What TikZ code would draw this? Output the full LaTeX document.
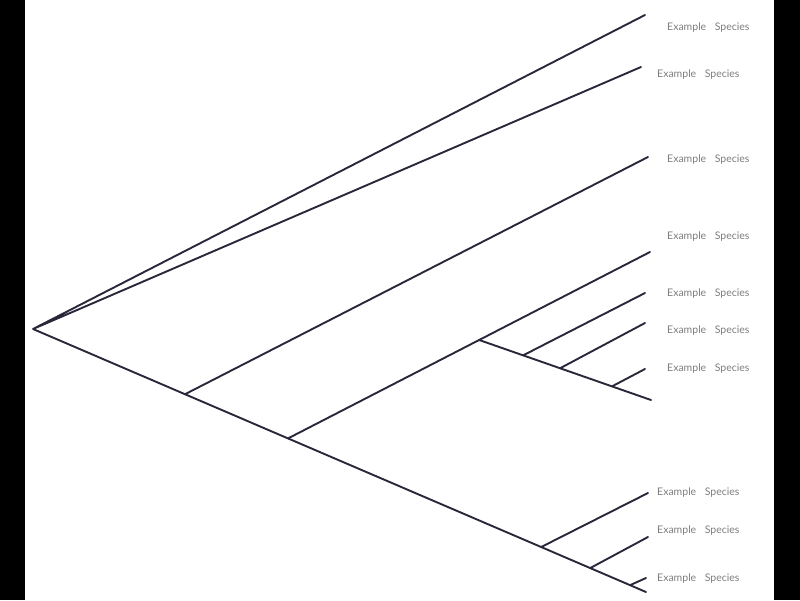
\documentclass[tikz,border=0pt]{standalone}
\usepackage{fontspec}
\setmainfont{Lato}
\definecolor{treeline}{RGB}{40,40,58}
\definecolor{namegray}{RGB}{125,125,128}
\begin{document}
\begin{tikzpicture}[x=1pt,y=-1pt,
    branch/.style={line width=1.9pt,draw=treeline,line cap=round},
    taxon/.style={anchor=west,inner sep=0pt,text=namegray,font=\fontsize{10.5}{12}\selectfont}]
    \useasboundingbox (0,0) rectangle (800,600);
    \fill[black] (0,0) rectangle (25,600);
    \fill[black] (774,0) rectangle (800,600);
    % leaf tips
    \coordinate (root) at (33,329);
    \foreach \x/\y [count=\i] in {645/15,641/67,648/157,650/252,645/293,645/323,645/369,651/400,648/493,648/537,646/578,646/592}
        \coordinate (t\i) at (\x,\y);
    % inner nodes along the branches
    \path (root) -- (t12) coordinate[pos=0.248] (n1) coordinate[pos=0.416] (n2)
        coordinate[pos=0.829] (n7) coordinate[pos=0.909] (n8) coordinate[pos=0.974] (n9);
    \path (n2) -- (t4) coordinate[pos=0.528] (n3);
    \path (n3) -- (t8) coordinate[pos=0.256] (n4) coordinate[pos=0.471] (n5) coordinate[pos=0.773] (n6);
    \draw[branch] (t1) -- (root) -- (t2);
    \draw[branch] (root) -- (t12);
    \draw[branch] (n1) -- (t3);
    \draw[branch] (n2) -- (t4);
    \draw[branch] (n3) -- (t8);
    \foreach \a/\b in {n4/t5,n5/t6,n6/t7,n7/t9,n8/t10,n9/t11}
        \draw[branch] (\a) -- (\b);
    % names
    \foreach \x/\y [count=\i] in {667/27.5,657/74.5,667/159.5,667/236.5,667/293.5,667/330.5,667/368.5,657/492.5,657/530.5,657/578.5}
        \node[taxon] (name\i) at (\x,\y) {Example\hspace{8.5pt}Species};
\end{tikzpicture}
\end{document}
